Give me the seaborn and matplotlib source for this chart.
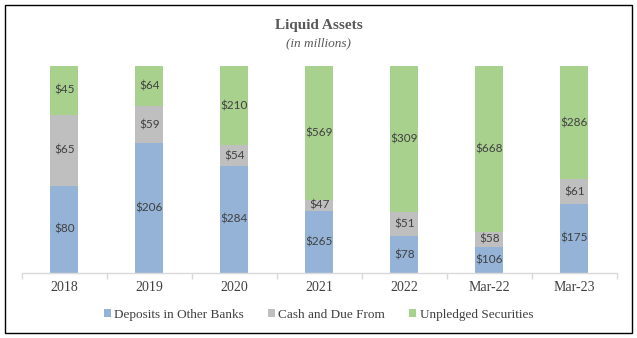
import numpy as np
import pandas as pd
import matplotlib
matplotlib.use("Agg")
import matplotlib.pyplot as plt
from matplotlib.patches import Rectangle, Patch
import seaborn as sns

periods = ["2018", "2019", "2020", "2021", "2022", "Mar-22", "Mar-23"]
deposits = [80, 206, 284, 265, 78, 106, 175]
cash_due = [65, 59, 54, 47, 51, 58, 61]
unpledged = [45, 64, 210, 569, 309, 668, 286]

series_names = ["Deposits in Other Banks", "Cash and Due From", "Unpledged Securities"]
colors = ["#95B3D7", "#BFBFBF", "#A9D18E"]

sns.set_theme(style="white")
plt.rcParams["font.family"] = ["Liberation Serif", "DejaVu Serif"]

df = pd.DataFrame({"period": periods, "dep": deposits, "cash": cash_due, "sec": unpledged})
total = df[["dep", "cash", "sec"]].sum(axis=1)
share = df[["dep", "cash", "sec"]].div(total, axis=0)
cum = share.cumsum(axis=1)

fig = plt.figure(figsize=(6.37, 3.38), dpi=100)
ax = fig.add_axes([0.0345, 0.192, 0.934, 0.613])

# stacked 100% bars: draw cumulative heights from the top layer down
for col, color in zip(["sec", "cash", "dep"], colors[::-1]):
    sns.barplot(x=df["period"], y=cum[col], color=color, width=0.33,
                saturation=1, ax=ax, linewidth=0)

# value labels centred in each segment
label_font = dict(family=["Lato", "DejaVu Sans"], size=8.5, color="#404040")
for i in range(len(periods)):
    lower = 0.0
    for col in ["dep", "cash", "sec"]:
        h = share.loc[i, col]
        ax.text(i, lower + h / 2, f"${df.loc[i, col]}", ha="center", va="center", **label_font)
        lower += h

ax.set_ylim(0, 1)
ax.set_xlim(-0.5, len(periods) - 0.5)
ax.set_xlabel("")
ax.set_ylabel("")
ax.set_yticks([])
for s in ["top", "right", "left"]:
    ax.spines[s].set_visible(False)
ax.spines["bottom"].set_color("#D9D9D9")
ax.spines["bottom"].set_linewidth(1)
ax.set_xticks(np.arange(-0.5, len(periods), 1.0), minor=True)
ax.tick_params(axis="x", which="minor", length=4, color="#D9D9D9", bottom=True)
ax.tick_params(axis="x", which="major", length=0, labelsize=10, labelcolor="#404040", pad=6)

fig.text(0.5, 0.925, "Liquid Assets", ha="center", va="center",
         fontsize=11, fontweight="bold", color="#595959")
fig.text(0.5, 0.872, "(in millions)", ha="center", va="center",
         fontsize=9.5, style="italic", color="#595959")

handles = [Patch(facecolor=c, edgecolor="none") for c in colors]
fig.legend(handles, series_names, loc="center", bbox_to_anchor=(0.5, 0.068), ncol=3,
           frameon=False, fontsize=9.5, handlelength=0.55, handleheight=0.55,
           handletextpad=0.25, columnspacing=1.8, labelcolor="#404040")

fig.patches.append(Rectangle((5 / 637, 5 / 338), 627 / 637, 328 / 338, transform=fig.transFigure,
                             fill=False, edgecolor="black", linewidth=1.0))

fig.savefig("out.png", dpi=100)
